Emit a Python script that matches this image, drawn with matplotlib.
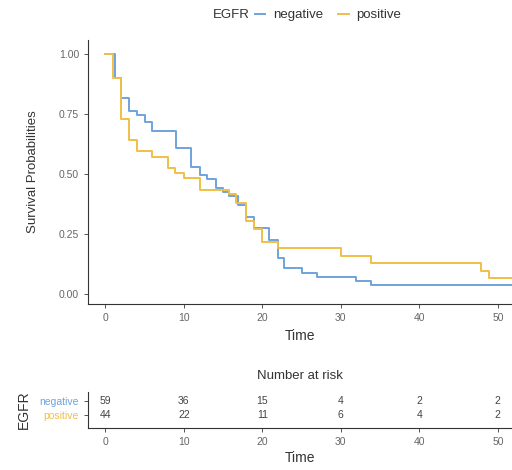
import matplotlib
matplotlib.use('Agg')
import matplotlib.pyplot as plt
from matplotlib.lines import Line2D

plt.rcParams['font.family'] = ['Liberation Sans', 'DejaVu Sans']

# Kaplan-Meier curves
neg_t = [0, 1.2, 2.0, 3.0, 4.0, 5.0, 6.0, 9.0, 10.9, 12.0, 13.0, 14.1, 15.0, 15.8, 16.9,
         17.9, 19.0, 20.9, 22.0, 22.8, 25.0, 26.9, 31.9, 33.9, 52.0]
neg_s = [1.0, 0.90, 0.815, 0.764, 0.745, 0.715, 0.68, 0.61, 0.528, 0.496, 0.478, 0.44, 0.426, 0.41, 0.371,
         0.322, 0.273, 0.225, 0.148, 0.107, 0.089, 0.072, 0.054, 0.037, 0.037]
pos_t = [0, 1.0, 2.0, 3.0, 4.0, 6.0, 8.0, 8.9, 10.0, 12.0, 15.8, 16.7, 17.9, 19.0, 19.9,
         22.0, 30.0, 33.9, 47.8, 48.9, 52.0]
pos_s = [1.0, 0.90, 0.73, 0.64, 0.596, 0.572, 0.526, 0.503, 0.482, 0.433, 0.417, 0.378, 0.302, 0.27, 0.218,
         0.19, 0.16, 0.13, 0.097, 0.066, 0.066]

risk_times = [0, 10, 20, 30, 40, 50]
risk_neg = [59, 36, 15, 4, 2, 2]
risk_pos = [44, 22, 11, 6, 4, 2]

blue = '#6ea3dc'
yellow = '#efbf48'
tick_c = '#555555'

fig = plt.figure(figsize=(5.12, 4.70), dpi=100)

# main survival plot
ax = fig.add_axes([0.172, 0.353, 0.828, 0.562])
ax.step(neg_t, neg_s, where='post', color=blue, lw=1.4)
ax.step(pos_t, pos_s, where='post', color=yellow, lw=1.4)
ax.set_xlim(-2.2, 51.8)
ax.set_ylim(-0.042, 1.058)
ax.set_xticks([0, 10, 20, 30, 40, 50])
ax.set_yticks([0, 0.25, 0.5, 0.75, 1.0])
ax.set_yticklabels(['0.00', '0.25', '0.50', '0.75', '1.00'])
ax.set_xlabel('Time', fontsize=10, color='#333333', labelpad=4)
ax.set_ylabel('Survival Probabilities', fontsize=9.5, color='#333333', labelpad=14)
for s in ['top', 'right']:
    ax.spines[s].set_visible(False)
for s in ['left', 'bottom']:
    ax.spines[s].set_color('#333333')
    ax.spines[s].set_linewidth(0.8)
ax.tick_params(labelsize=7.5, colors=tick_c, length=3, width=0.7, labelcolor='#666666')

# legend on top
handles = [Line2D([], [], color=blue, lw=1.4), Line2D([], [], color=yellow, lw=1.4)]
leg = fig.legend(handles, ['negative', 'positive'], loc='center left', bbox_to_anchor=(0.485, 0.968),
                 ncol=2, frameon=False, fontsize=9.5, handlelength=0.8, handletextpad=0.6,
                 columnspacing=1.1, borderpad=0)
fig.text(0.416, 0.968, 'EGFR', fontsize=9.5, color='#333333', ha='left', va='center')
for t in leg.get_texts():
    t.set_color('#333333')

# risk table
rt = fig.add_axes([0.172, 0.089, 0.828, 0.077])
rt.set_xlim(-2.2, 51.8)
rt.set_ylim(-0.93, 1.64)
for x, n1, n2 in zip(risk_times, risk_neg, risk_pos):
    rt.text(x, 1, str(n1), ha='center', va='center', fontsize=7.5, color='#444444')
    rt.text(x, 0, str(n2), ha='center', va='center', fontsize=7.5, color='#444444')
rt.set_yticks([1, 0])
rt.set_yticklabels(['negative', 'positive'])
rt.set_xticks(risk_times)
rt.set_xlabel('Time', fontsize=10, color='#333333', labelpad=3)
rt.set_ylabel('EGFR', fontsize=10, color='#333333', labelpad=6)
rt.set_title('Number at risk', fontsize=9.5, color='#333333', pad=9)
for s in ['top', 'right']:
    rt.spines[s].set_visible(False)
for s in ['left', 'bottom']:
    rt.spines[s].set_color('#333333')
    rt.spines[s].set_linewidth(0.8)
rt.tick_params(axis='x', labelsize=7.5, colors=tick_c, length=3, width=0.7, labelcolor='#666666')
rt.tick_params(axis='y', labelsize=7.5, colors=tick_c, length=3, width=0.7)
for lab, c in zip(rt.get_yticklabels(), [blue, yellow]):
    lab.set_color(c)

fig.savefig('out.png', dpi=100)
